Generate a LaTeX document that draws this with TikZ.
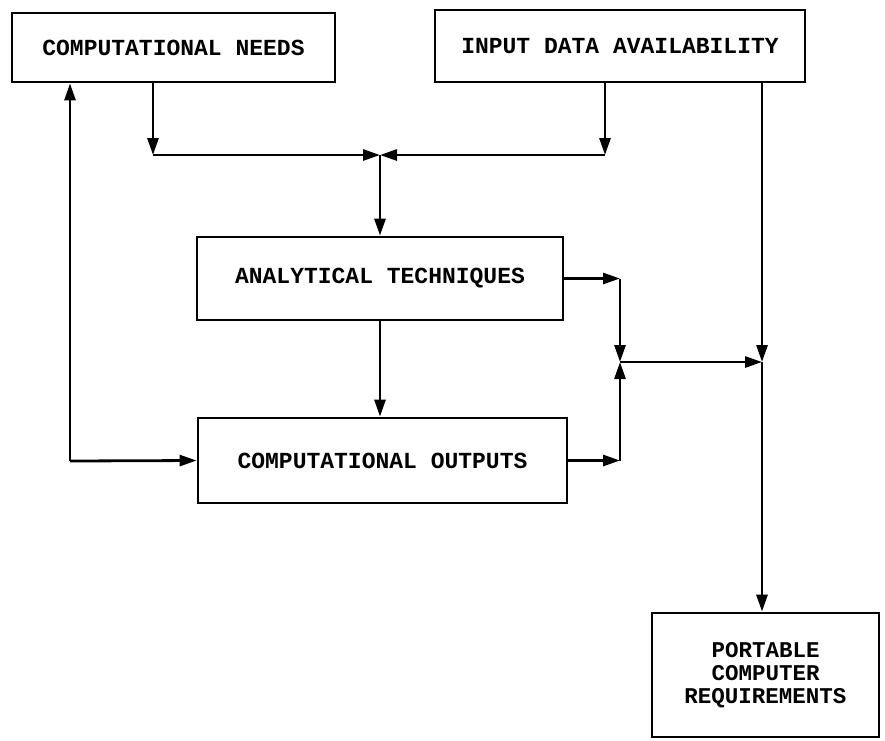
\documentclass[tikz,border=0pt]{standalone}
\usepackage{fontspec}
\newfontfamily\diafont{Liberation Mono}
\usetikzlibrary{arrows.meta}
\begin{document}
\begin{tikzpicture}[x=1pt,y=-1pt,
  box/.style={draw, line width=2.8pt, inner sep=0pt, align=center,
    font=\diafont\bfseries\fontsize{23}{23}\selectfont},
  conn/.style={line width=2.8pt},
  arr/.style={conn, -{Triangle[length=17pt,width=11pt]}}]
\useasboundingbox[fill=white] (0,0) rectangle (885,740);
\node[box, minimum width=323pt, minimum height=69pt] (cn) at (173.5,47.5) {COMPUTATIONAL NEEDS};
\node[box, minimum width=370pt, minimum height=72pt] (ida) at (620,46) {INPUT DATA AVAILABILITY};
\node[box, minimum width=366pt, minimum height=83pt] (at) at (380,278.5) {ANALYTICAL TECHNIQUES};
\node[box, minimum width=369pt, minimum height=85pt] (co) at (382.5,460.5) {COMPUTATIONAL OUTPUTS};
\node[box, minimum width=227pt, minimum height=124pt, font=\diafont\bfseries\fontsize{22.5}{23}\selectfont] (pcr) at (765.5,675) {PORTABLE\\COMPUTER\\REQUIREMENTS};
\coordinate (c1) at (153,155);
\coordinate (j1) at (380,155);
\coordinate (c3) at (605,155);
\coordinate (c2) at (70,461);
\coordinate (a1) at (620,278.5);
\coordinate (a2) at (620,460.5);
\coordinate (j2) at (620,362);
\coordinate (j3) at (762,362);
% top merge
\draw[arr] (cn.south -| c1) -- (c1);
\draw[arr] (c1) -- (j1);
\draw[arr] (ida.south -| c3) -- (c3);
\draw[arr] (c3) -- (j1);
\draw[arr] (j1) -- (at.north);
\draw[arr] (at.south) -- (co.north -| at.south);
% feedback loop
\draw[arr] (c2) -- (cn.south -| c2);
\draw[arr] (c2) -- (co.west);
% right merge
\draw[arr] (at.east) -- (a1);
\draw[arr] (a1) -- (j2);
\draw[arr] (co.east) -- (a2);
\draw[arr] (a2) -- (j2);
\draw[arr] (j2) -- (j3);
\draw[arr] (ida.south -| j3) -- (j3);
\draw[arr] (j3) -- (pcr.north -| j3);
\end{tikzpicture}
\end{document}
